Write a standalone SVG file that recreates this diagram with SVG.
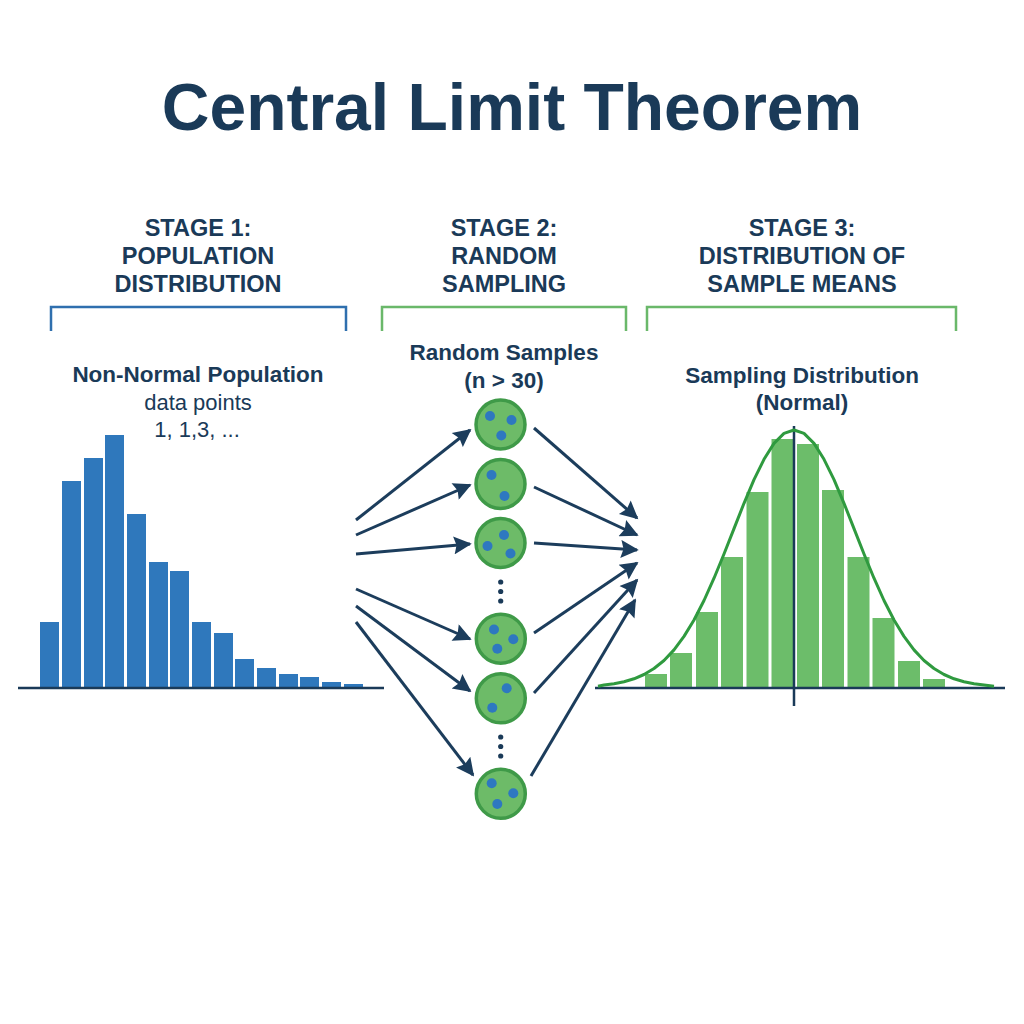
<svg xmlns="http://www.w3.org/2000/svg" width="1024" height="1024" viewBox="0 0 1024 1024">
<style>
.t{font-family:"Liberation Sans",Arial,sans-serif;fill:#1a3a58;text-anchor:middle}
.title{font-size:66px;font-weight:bold}
.stage{font-size:23.5px;font-weight:bold}
.sub{font-size:22.5px;font-weight:bold}
.reg{font-size:22px}
.bluebar{fill:#2f78bc}
.greenbar{fill:#6cbd6a}
.axis{stroke:#1a3a58;stroke-width:2.5;fill:none}
.arr{stroke:#1c3d5c;stroke-width:3;fill:none;marker-end:url(#ah)}
.circ{fill:#6dbb68;stroke:#3f9a48;stroke-width:3.5}
.dot{fill:#2e78c0}
.vdot{fill:#1a3a58}
</style>
<defs>
<marker id="ah" viewBox="0 0 10 10" refX="9" refY="5" markerWidth="6.5" markerHeight="6" orient="auto" markerUnits="strokeWidth">
<path d="M0,0 L10,5 L0,10 L1.5,5 Z" fill="#1c3d5c"/>
</marker>
</defs>
<rect width="1024" height="1024" fill="#ffffff"/>
<text class="t title" x="512" y="130">Central Limit Theorem</text>

<g id="stage1">
<text class="t stage" x="198" y="236">STAGE 1:</text>
<text class="t stage" x="198" y="264">POPULATION</text>
<text class="t stage" x="198" y="292">DISTRIBUTION</text>
<path d="M51,331 V307 H346 V331" fill="none" stroke="#2f6fae" stroke-width="2.5"/>
</g>
<g id="stage2">
<text class="t stage" x="504" y="236">STAGE 2:</text>
<text class="t stage" x="504" y="264">RANDOM</text>
<text class="t stage" x="504" y="292">SAMPLING</text>
<path d="M382,331 V307 H626 V331" fill="none" stroke="#6ab86a" stroke-width="2.5"/>
</g>
<g id="stage3">
<text class="t stage" x="802" y="236">STAGE 3:</text>
<text class="t stage" x="802" y="264">DISTRIBUTION OF</text>
<text class="t stage" x="802" y="292">SAMPLE MEANS</text>
<path d="M647,331 V307 H956 V331" fill="none" stroke="#6ab86a" stroke-width="2.5"/>
</g>

<g id="population">
<text class="t sub" x="198" y="382">Non-Normal Population</text>
<text class="t reg" x="198" y="410">data points</text>
<text class="t reg" x="197" y="437">1, 1,3, ...</text>
<rect class="bluebar" x="40" y="622" width="19" height="66"/>
<rect class="bluebar" x="62" y="481" width="19" height="207"/>
<rect class="bluebar" x="84" y="458" width="19" height="230"/>
<rect class="bluebar" x="105" y="435" width="19" height="253"/>
<rect class="bluebar" x="127" y="514" width="19" height="174"/>
<rect class="bluebar" x="149" y="562" width="19" height="126"/>
<rect class="bluebar" x="170" y="571" width="19" height="117"/>
<rect class="bluebar" x="192" y="622" width="19" height="66"/>
<rect class="bluebar" x="214" y="633" width="19" height="55"/>
<rect class="bluebar" x="235" y="659" width="19" height="29"/>
<rect class="bluebar" x="257" y="668" width="19" height="20"/>
<rect class="bluebar" x="279" y="674" width="19" height="14"/>
<rect class="bluebar" x="300" y="677" width="19" height="11"/>
<rect class="bluebar" x="322" y="682" width="19" height="6"/>
<rect class="bluebar" x="344" y="684" width="19" height="4"/>
<line class="axis" x1="18" y1="688" x2="384" y2="688"/>
</g>

<g id="samples">
<text class="t sub" x="504" y="360">Random Samples</text>
<text class="t sub" x="504" y="388">(n &gt; 30)</text>
<g id="s1"><circle class="circ" cx="500.5" cy="424.5" r="24.5"/><circle class="dot" cx="490" cy="416" r="5"/><circle class="dot" cx="511.5" cy="420" r="5"/><circle class="dot" cx="501.3" cy="435.5" r="5"/></g>
<g id="s2"><circle class="circ" cx="500.5" cy="484" r="24.5"/><circle class="dot" cx="491.5" cy="475" r="5"/><circle class="dot" cx="504.5" cy="496" r="5"/></g>
<g id="s3"><circle class="circ" cx="500.5" cy="543" r="24.5"/><circle class="dot" cx="504" cy="535" r="5"/><circle class="dot" cx="487.5" cy="546" r="5"/><circle class="dot" cx="510.5" cy="553.5" r="5"/></g>
<circle class="vdot" cx="500.7" cy="582" r="2.6"/><circle class="vdot" cx="500.7" cy="591.5" r="2.6"/><circle class="vdot" cx="500.7" cy="601" r="2.6"/>
<g id="s4"><circle class="circ" cx="500.8" cy="638.7" r="24.5"/><circle class="dot" cx="494" cy="629.5" r="5"/><circle class="dot" cx="513.3" cy="639.3" r="5"/><circle class="dot" cx="497.3" cy="648.7" r="5"/></g>
<g id="s5"><circle class="circ" cx="500.8" cy="698.3" r="24.5"/><circle class="dot" cx="506.7" cy="688.3" r="5"/><circle class="dot" cx="492.3" cy="707.7" r="5"/></g>
<circle class="vdot" cx="500.7" cy="737" r="2.6"/><circle class="vdot" cx="500.7" cy="746.5" r="2.6"/><circle class="vdot" cx="500.7" cy="756" r="2.6"/>
<g id="s6"><circle class="circ" cx="500.8" cy="793.8" r="24.5"/><circle class="dot" cx="491.7" cy="783.3" r="5"/><circle class="dot" cx="513.3" cy="793.3" r="5"/><circle class="dot" cx="497.3" cy="804" r="5"/></g>
</g>

<g id="sampling-distribution">
<text class="t sub" x="802" y="383">Sampling Distribution</text>
<text class="t sub" x="802" y="410">(Normal)</text>
<rect class="greenbar" x="645" y="674" width="22" height="14"/>
<rect class="greenbar" x="670" y="653" width="22" height="35"/>
<rect class="greenbar" x="696" y="612" width="22" height="76"/>
<rect class="greenbar" x="721" y="557" width="22" height="131"/>
<rect class="greenbar" x="746.5" y="492" width="22" height="196"/>
<rect class="greenbar" x="771.5" y="439" width="22" height="249"/>
<rect class="greenbar" x="797" y="444" width="22" height="244"/>
<rect class="greenbar" x="822" y="490" width="22" height="198"/>
<rect class="greenbar" x="847.5" y="557" width="22" height="131"/>
<rect class="greenbar" x="872.5" y="618" width="22" height="70"/>
<rect class="greenbar" x="898" y="661" width="22" height="27"/>
<rect class="greenbar" x="923" y="679" width="22" height="9"/>
<line class="axis" x1="595" y1="688" x2="1005" y2="688"/>
<line class="axis" x1="794" y1="426" x2="794" y2="706"/>
<path d="M598,686.2 L604,685 L614,683.7 L624,681.7 L634,678.8 L644,674.5 L654,668.5 L664,660.5 L674,649.9 L684,636.4 L694,620 L704,600.5 L714,578.2 L724,554 L734,528.6 L744,503.3 L754,479.7 L764,459.3 L774,443.4 L784,433.4 L794,430 L804,433.4 L814,443.4 L824,459.3 L834,479.7 L844,503.3 L854,528.6 L864,554 L874,578.2 L884,600.5 L894,620 L904,636.4 L914,649.9 L924,660.5 L934,668.5 L944,674.5 L954,678.8 L964,681.7 L974,683.7 L984,685 L994,686.2" fill="none" stroke="#2f9a3f" stroke-width="3" stroke-linejoin="round"/>
</g>

<g id="connectors">
<line class="arr" x1="356" y1="520" x2="470" y2="430"/>
<line class="arr" x1="356" y1="535" x2="470" y2="485"/>
<line class="arr" x1="356" y1="554" x2="470" y2="544"/>
<line class="arr" x1="356" y1="589" x2="470" y2="639"/>
<line class="arr" x1="356" y1="606" x2="470" y2="691"/>
<line class="arr" x1="356" y1="622" x2="473" y2="775"/>
<line class="arr" x1="534" y1="428" x2="637" y2="518"/>
<line class="arr" x1="534" y1="487" x2="637" y2="535"/>
<line class="arr" x1="534" y1="543" x2="637" y2="550"/>
<line class="arr" x1="534" y1="633" x2="637" y2="563"/>
<line class="arr" x1="534" y1="693" x2="637" y2="580"/>
<line class="arr" x1="531" y1="776" x2="635" y2="600"/>
</g>
</svg>
